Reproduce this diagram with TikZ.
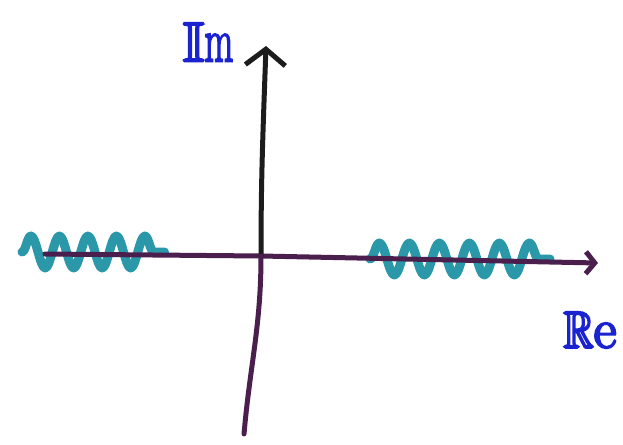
\documentclass[tikz,border=0pt]{standalone}
\usepackage{amsmath,amssymb}
\usepackage{tikz}
\usetikzlibrary{arrows.meta, decorations.pathmorphing, positioning}
\definecolor{axispurple}{HTML}{4A1F4E}
\definecolor{axisblack}{HTML}{1C1C1C}
\definecolor{cutteal}{HTML}{2A98A8}
\definecolor{labelblue}{HTML}{1B22D0}
\newcommand{\heavytext}[1]{\special{pdf:literal direct 2 Tr 2.2 w}#1\special{pdf:literal direct 0 Tr}}
\newcommand{\narrowglyph}[2]{\scalebox{#1}[1]{#2}}
\tikzset{
  % Axes
  axisline/.style={line width=5pt, line cap=round, draw=#1},
  axisline/.default={axispurple},
  bigtip/.style={-{Straight Barb[length=16pt, width=40pt, line width=5pt]}},
  smalltip/.style={-{Straight Barb[length=9pt, width=22pt, line width=5pt]}},
  % Branch cuts
  cutwave/.style={
    draw=cutteal, line width=9pt, line cap=round, line join=round,
    decorate, decoration={snake, segment length=#1, amplitude=16pt}
  },
  cutwave/.default={28pt},
  % Axis labels
  axislabel/.style={text=labelblue, inner sep=0pt},
}
\begin{document}
\begin{tikzpicture}[x=1pt, y=-1pt]
  \useasboundingbox[fill=white] (0,0) rectangle (623,444);
  % Points
  \coordinate (origin) at (261,256);
  \coordinate (xstart) at (45,254);
  \coordinate (xend) at (598,263);
  \coordinate (ytop) at (266,46);
  \coordinate (ybot) at (244,434);

  % Branch cuts
  \draw[cutwave=28.5pt] (22,252) -- (164.5,252);
  \draw[cutwave=30pt] (370,259) -- (550,259);

  % Axes
  \draw[axisline] (xstart) -- (origin);
  \draw[axisline, smalltip] (origin) -- (xend);
  \draw[axisline=axisblack, bigtip] (origin) to[out=90, in=-92] (ytop);
  \draw[axisline] (origin) to[out=-90, in=85] (ybot);

  % Labels
  \node[axislabel, font=\fontsize{56}{56}\selectfont] (imlabel) at (208,42)
    {\heavytext{$\mathbb{I}$\fontsize{62}{62}\selectfont\narrowglyph{0.6}{m}}};
  \node[axislabel, font=\fontsize{52}{52}\selectfont] (relabel) at (590,330)
    {\heavytext{\narrowglyph{0.8}{$\mathbb{R}$}\fontsize{56}{56}\selectfont e}};
\end{tikzpicture}
\end{document}
